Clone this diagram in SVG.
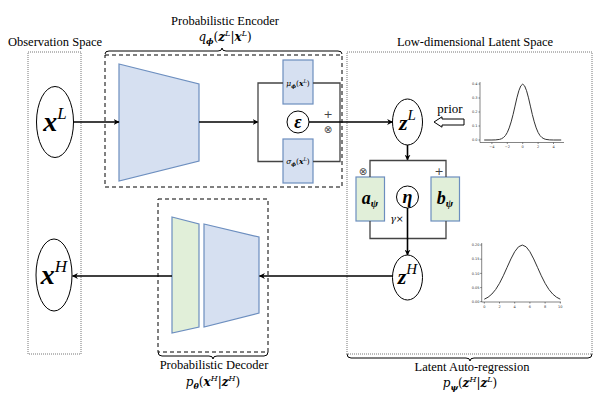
<svg xmlns="http://www.w3.org/2000/svg" width="598" height="400" viewBox="0 0 598 400" font-family="'Liberation Serif', 'DejaVu Serif', serif">
<defs>
<marker id="ah" viewBox="0 0 10 10" refX="9" refY="5" markerWidth="6" markerHeight="6" markerUnits="userSpaceOnUse" orient="auto">
<path d="M0,0 L10,5 L0,10 L3,5 Z" fill="#000"/>
</marker>
</defs>
<style>
text{font-family:"Liberation Serif","DejaVu Serif",serif;fill:#000}
text.math{font-family:"DejaVu Serif","Liberation Serif",serif}
.lbl{font-size:12.5px}
.m{font-style:italic}
.b{font-weight:bold;font-style:italic}
.sym{font-family:"DejaVu Sans",sans-serif;fill:#444}
.dot{fill:none;stroke:#777;stroke-width:1;stroke-dasharray:1 1}
.dash{fill:none;stroke:#000;stroke-width:1;stroke-dasharray:4 3}
.brace{fill:none;stroke:#000;stroke-width:1}
.blue{fill:#d6e0f1;stroke:#6c8ebf;stroke-width:1.2}
.green{fill:#e1efd9;stroke:#6c8ebf;stroke-width:1.2}
.node{fill:#fff;stroke:#000;stroke-width:1}
.arr{fill:none;stroke:#000;stroke-width:1.6;marker-end:url(#ah)}
.br{fill:none;stroke:#444;stroke-width:1.3}
.ax{fill:none;stroke:#333;stroke-width:0.6}
.crv{fill:none;stroke:#333;stroke-width:1}
.tk{font-family:"DejaVu Sans",sans-serif;font-size:3.5px;fill:#333}
</style>

<!-- regions -->
<g id="observation-space">
<rect class="dot" x="28" y="52" width="53" height="302"/>
<text class="lbl" x="55" y="46" text-anchor="middle">Observation Space</text>
</g>
<g id="latent-space">
<rect class="dot" x="347" y="52" width="245" height="302"/>
<text class="lbl" x="475" y="46" text-anchor="middle">Low-dimensional Latent Space</text>
<path class="brace" d="M347,354 Q347,358 351,358 L466,358 Q470,358 470,361 Q470,358 474,358 L588,358 Q592,358 592,354"/>
<text class="lbl" x="472" y="371" text-anchor="middle">Latent Auto-regression</text>
<text class="math" x="470" y="387" text-anchor="middle" font-size="12"><tspan class="m">p</tspan><tspan class="b" font-size="8" dy="2.5">ψ</tspan><tspan dy="-2.5">(</tspan><tspan class="b">z</tspan><tspan class="m" font-size="8" dy="-5">H</tspan><tspan dy="5">|</tspan><tspan class="b">z</tspan><tspan class="m" font-size="8" dy="-5">L</tspan><tspan dy="5">)</tspan></text>
</g>

<!-- encoder -->
<g id="encoder">
<rect class="dash" x="105" y="55" width="237" height="132"/>
<path class="brace" d="M105,54 Q105,51 109,51 L218,51 Q222,51 222,48 Q222,51 226,51 L338,51 Q342,51 342,54"/>
<text class="lbl" x="225" y="25" text-anchor="middle">Probabilistic Encoder</text>
<text class="math" x="225" y="41" text-anchor="middle" font-size="12"><tspan class="m">q</tspan><tspan class="b" font-size="8" dy="2.5">ϕ</tspan><tspan dy="-2.5">(</tspan><tspan class="b">z</tspan><tspan class="m" font-size="8" dy="-5">L</tspan><tspan dy="5">|</tspan><tspan class="b">x</tspan><tspan class="m" font-size="8" dy="-5">L</tspan><tspan dy="5">)</tspan></text>
<polygon class="blue" points="119,64 199,84 199,161 119,181"/>
</g>
<g id="mu">
<rect class="blue" x="283" y="60" width="30" height="44"/>
<text class="math" x="298" y="86" text-anchor="middle" font-size="7.5"><tspan class="m">μ</tspan><tspan class="b" font-size="5" dy="1.5">ϕ</tspan><tspan dy="-1.5">(</tspan><tspan class="b">x</tspan><tspan class="m" font-size="5" dy="-3">L</tspan><tspan dy="3">)</tspan></text>
</g>
<g id="sigma">
<rect class="blue" x="283" y="139" width="30" height="44"/>
<text class="math" x="298" y="164" text-anchor="middle" font-size="7.5"><tspan class="m">σ</tspan><tspan class="b" font-size="5" dy="1.5">ϕ</tspan><tspan dy="-1.5">(</tspan><tspan class="b">x</tspan><tspan class="m" font-size="5" dy="-3">L</tspan><tspan dy="3">)</tspan></text>
</g>
<g id="epsilon">
<circle class="node" cx="298" cy="122" r="11" stroke-width="1.3"/>
<text class="b" x="298" y="128" text-anchor="middle" font-size="18">ε</text>
</g>

<!-- decoder -->
<g id="decoder">
<rect class="dash" x="158" y="199" width="110" height="153"/>
<path class="brace" d="M158,352 Q158,356 162,356 L209,356 Q213,356 213,359 Q213,356 217,356 L264,356 Q268,356 268,352"/>
<text class="lbl" x="214" y="369" text-anchor="middle">Probabilistic Decoder</text>
<text class="math" x="213" y="386" text-anchor="middle" font-size="12"><tspan class="m">p</tspan><tspan class="b" font-size="8" dy="2.5">θ</tspan><tspan dy="-2.5">(</tspan><tspan class="b">x</tspan><tspan class="m" font-size="8" dy="-5">H</tspan><tspan dy="5">|</tspan><tspan class="b">z</tspan><tspan class="m" font-size="8" dy="-5">H</tspan><tspan dy="5">)</tspan></text>
<polygon class="green" points="172,217 199,224 199,327 172,333"/>
<polygon class="blue" points="204,224 259,237 259,313 204,327"/>
</g>

<!-- nodes -->
<g id="xL">
<ellipse class="node" cx="55" cy="122" rx="18.5" ry="35.5"/>
<text x="55" y="131" text-anchor="middle"><tspan class="b" font-size="28">x</tspan><tspan class="m" font-size="17" dy="-12">L</tspan></text>
</g>
<g id="xH">
<ellipse class="node" cx="54" cy="275" rx="18" ry="36"/>
<text x="54" y="284" text-anchor="middle"><tspan class="b" font-size="28">x</tspan><tspan class="m" font-size="17" dy="-12">H</tspan></text>
</g>
<g id="zL">
<ellipse class="node" cx="407.5" cy="122" rx="15" ry="23"/>
<text x="407.5" y="130" text-anchor="middle"><tspan class="b" font-size="22">z</tspan><tspan class="m" font-size="15" dy="-10">L</tspan></text>
</g>
<g id="zH">
<ellipse class="node" cx="407.5" cy="277.5" rx="15" ry="22.5"/>
<text x="407.5" y="284" text-anchor="middle"><tspan class="b" font-size="22">z</tspan><tspan class="m" font-size="15" dy="-10">H</tspan></text>
</g>
<g id="a-psi">
<rect class="green" x="356" y="177" width="28.5" height="44"/>
<text x="370" y="204" text-anchor="middle"><tspan class="b" font-size="18">a</tspan><tspan class="b" font-size="11" dy="3">ψ</tspan></text>
</g>
<g id="b-psi">
<rect class="green" x="431" y="177" width="28.5" height="44"/>
<text x="445" y="204" text-anchor="middle"><tspan class="b" font-size="18">b</tspan><tspan class="b" font-size="11" dy="3">ψ</tspan></text>
</g>
<g id="eta">
<circle class="node" cx="407.5" cy="197" r="11" stroke-width="1.3"/>
<text class="b" x="407.5" y="203" text-anchor="middle" font-size="18">η</text>
</g>

<!-- prior plots -->
<g id="prior-plot">
<path class="ax" d="M480,82 V142.5 H564"/>
<path class="ax" d="M478.5,84 H480 M478.5,98 H480 M478.5,112 H480 M478.5,126 H480 M478.5,140 H480 M491.9,142.5 V144 M507.3,142.5 V144 M522.7,142.5 V144 M538.1,142.5 V144 M553.5,142.5 V144"/>
<g text-anchor="end">
<text class="tk" x="477.5" y="85.2">0.4</text><text class="tk" x="477.5" y="99.2">0.3</text><text class="tk" x="477.5" y="113.2">0.2</text><text class="tk" x="477.5" y="127.2">0.1</text><text class="tk" x="477.5" y="141.2">0.0</text>
</g>
<g text-anchor="middle">
<text class="tk" x="491.9" y="148">−4</text><text class="tk" x="507.3" y="148">−2</text><text class="tk" x="522.7" y="148">0</text><text class="tk" x="538.1" y="148">2</text><text class="tk" x="553.5" y="148">4</text>
</g>
<polyline class="crv" points="484.2,140 491.9,140 495.75,139.88 499.6,139.38 501.5,138.73 503.45,137.55 505.4,135.56 507.3,132.44 509.2,127.92 511.15,121.87 513.1,114.43 515,106.12 516.9,97.85 518.85,90.72 520.8,85.86 522.7,84.15 524.6,85.86 526.55,90.72 528.5,97.85 530.4,106.12 532.3,114.43 534.25,121.87 536.2,127.92 538.1,132.44 540,135.56 541.95,137.55 543.9,138.73 545.8,139.38 549.65,139.88 553.5,140 561.2,140"/>
</g>
<g id="posterior-plot">
<path class="ax" d="M481.7,243 V302 H561"/>
<path class="ax" d="M480.2,245 H481.7 M480.2,259.2 H481.7 M480.2,273.4 H481.7 M480.2,287.6 H481.7 M480.2,301.7 H481.7 M484.3,302 V303.5 M499.5,302 V303.5 M514.7,302 V303.5 M529.9,302 V303.5 M545.1,302 V303.5 M560.3,302 V303.5"/>
<g text-anchor="end">
<text class="tk" x="479.5" y="246.2">0.20</text><text class="tk" x="479.5" y="260.4">0.15</text><text class="tk" x="479.5" y="274.6">0.10</text><text class="tk" x="479.5" y="288.8">0.05</text><text class="tk" x="479.5" y="302.9">0.00</text>
</g>
<g text-anchor="middle">
<text class="tk" x="484.3" y="307.5">0</text><text class="tk" x="499.5" y="307.5">2</text><text class="tk" x="514.7" y="307.5">4</text><text class="tk" x="529.9" y="307.5">6</text><text class="tk" x="545.1" y="307.5">8</text><text class="tk" x="560.3" y="307.5">10</text>
</g>
<polyline class="crv" points="484.3,299.21 488.1,297.19 491.9,294.03 495.7,289.45 499.5,283.31 503.3,275.77 507.1,267.34 510.9,258.94 514.7,251.71 518.5,246.79 522.3,245.05 526.1,246.79 529.9,251.71 533.7,258.94 537.5,267.34 541.3,275.77 545.1,283.31 548.9,289.45 552.7,294.03 556.5,297.19 560.3,299.21"/>
</g>

<!-- connectors -->
<g id="connectors">
<line class="arr" x1="73.5" y1="122" x2="119" y2="122"/>
<line class="arr" x1="199" y1="122" x2="258" y2="122"/>
<path class="br" d="M283,83 H258 V161.5 H283"/>
<path class="br" d="M313,83 H340 V161.5 H313"/>
<line class="arr" x1="309" y1="122" x2="392.5" y2="122"/>
<text class="sym" x="328" y="118" text-anchor="middle" font-size="11">+</text>
<text class="sym" x="328" y="133" text-anchor="middle" font-size="10">⊗</text>
<polygon points="434,122 442,116.8 442,119 464,119 464,125 442,125 442,127.2" fill="#fff" stroke="#000" stroke-width="1"/>
<text x="450" y="113" text-anchor="middle" font-size="13">prior</text>
<line class="arr" x1="407.5" y1="145" x2="407.5" y2="160"/>
<path class="br" d="M370,177 V160.5 H446 V177"/>
<path class="br" d="M370,221 V238.5 H446 V221"/>
<text class="sym" x="363" y="175" text-anchor="middle" font-size="10">⊗</text>
<text class="sym" x="439" y="175" text-anchor="middle" font-size="11">+</text>
<line class="arr" x1="407.5" y1="208" x2="407.5" y2="255"/>
<text class="math" x="397" y="222" text-anchor="middle" font-size="9.5" fill="#444"><tspan font-style="italic">γ</tspan>×</text>
<line class="arr" x1="392.5" y1="276" x2="259.5" y2="276"/>
<line class="arr" x1="172" y1="276" x2="72.5" y2="276"/>
</g>
</svg>
